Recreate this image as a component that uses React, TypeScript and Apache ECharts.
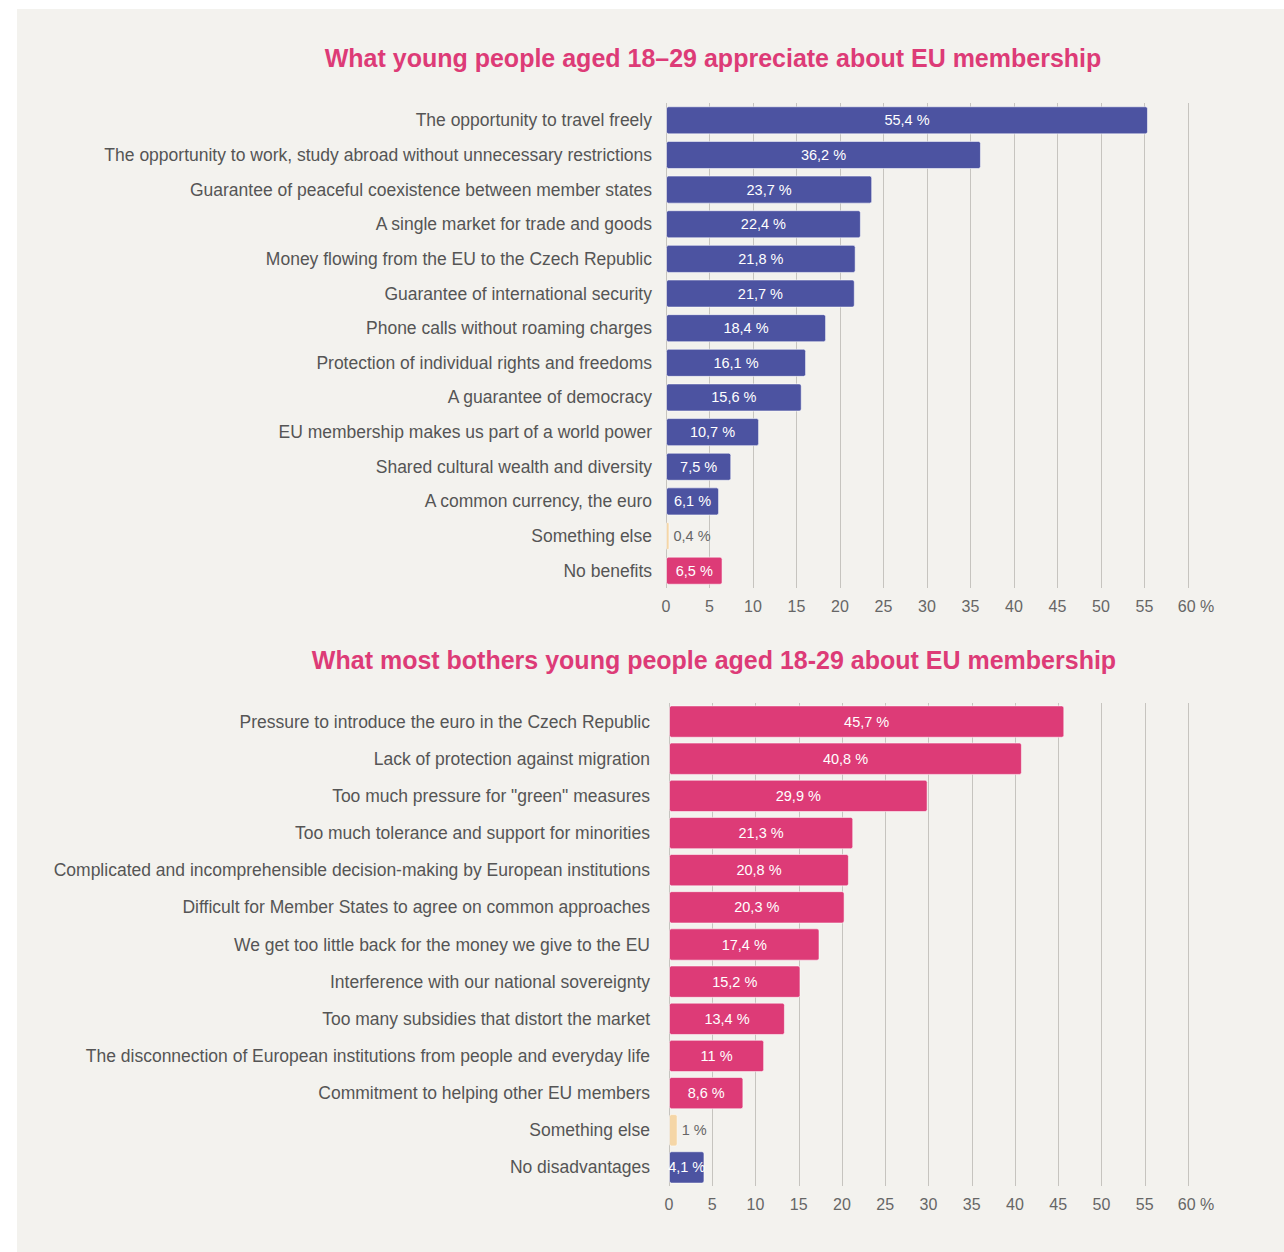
import React, { useEffect, useRef } from "react";
import * as echarts from "echarts";

const topTitle = "What young people aged 18–29 appreciate about EU membership";
const bottomTitle = "What most bothers young people aged 18-29 about EU membership";

const topCategories = [
  "The opportunity to travel freely",
  "The opportunity to work, study abroad without unnecessary restrictions",
  "Guarantee of peaceful coexistence between member states",
  "A single market for trade and goods",
  "Money flowing from the EU to the Czech Republic",
  "Guarantee of international security",
  "Phone calls without roaming charges",
  "Protection of individual rights and freedoms",
  "A guarantee of democracy",
  "EU membership makes us part of a world power",
  "Shared cultural wealth and diversity",
  "A common currency, the euro",
  "Something else",
  "No benefits",
];
const topValues = [55.4, 36.2, 23.7, 22.4, 21.8, 21.7, 18.4, 16.1, 15.6, 10.7, 7.5, 6.1, 0.4, 6.5];
const topKinds = ["b", "b", "b", "b", "b", "b", "b", "b", "b", "b", "b", "b", "o", "p"];

const bottomCategories = [
  "Pressure to introduce the euro in the Czech Republic",
  "Lack of protection against migration",
  "Too much pressure for \"green\" measures",
  "Too much tolerance and support for minorities",
  "Complicated and incomprehensible decision-making by European institutions",
  "Difficult for Member States to agree on common approaches",
  "We get too little back for the money we give to the EU",
  "Interference with our national sovereignty",
  "Too many subsidies that distort the market",
  "The disconnection of European institutions from people and everyday life",
  "Commitment to helping other EU members",
  "Something else",
  "No disadvantages",
];
const bottomValues = [45.7, 40.8, 29.9, 21.3, 20.8, 20.3, 17.4, 15.2, 13.4, 11, 8.6, 1, 4.1];
const bottomKinds = ["p", "p", "p", "p", "p", "p", "p", "p", "p", "p", "p", "o", "b"];

const xTicks = { min: 0, max: 60, interval: 5 };

const COLORS: Record<string, string> = { b: "#4c53a1", p: "#dd3b77", o: "#f5d6a6" };
const FONT = "'Liberation Sans', Arial, Helvetica, sans-serif";

function fmt(v: number) {
  return String(v).replace(".", ",") + " %";
}

function buildData(values: number[], kinds: string[]) {
  return values.map((v, i) => {
    const k = kinds[i];
    const item: any = {
      value: v,
      itemStyle: { color: COLORS[k] },
    };
    if (k === "o") {
      item.label = { position: "right", color: "#666", distance: 4 };
    }
    return item;
  });
}

export default function App() {
  const ref = useRef<HTMLDivElement>(null);
  useEffect(() => {
    document.body.style.margin = "0";
    if (!ref.current) return;
    const chart = echarts.init(ref.current, null, { renderer: "svg" });

    const xAxisBase = (gridIndex: number) => ({
      type: "value",
      gridIndex,
      min: xTicks.min,
      max: xTicks.max,
      interval: xTicks.interval,
      axisLine: { show: false },
      axisTick: { show: false },
      splitLine: { show: true, lineStyle: { color: "#c6c4bf", width: 1 } },
      axisLabel: {
        fontFamily: FONT,
        fontSize: 16,
        color: "#666",
        margin: 10,
        formatter: (v: number) => (v === xTicks.max ? "{p|" + v + " %}" : String(v)),
        rich: { p: { fontFamily: FONT, fontSize: 16, color: "#666", padding: [0, 0, 0, 16] } },
      },
    });

    const yAxisBase = (gridIndex: number, data: string[], margin: number) => ({
      type: "category",
      gridIndex,
      data,
      inverse: true,
      axisLine: { show: false },
      axisTick: { show: false },
      axisLabel: { fontFamily: FONT, fontSize: 17.5, color: "#555", margin },
    });

    const seriesBase = (idx: number, data: any[], gap: string) => ({
      type: "bar",
      xAxisIndex: idx,
      yAxisIndex: idx,
      data,
      barCategoryGap: gap,
      itemStyle: { borderRadius: 2, borderColor: "rgba(255,255,255,0.55)", borderWidth: 1 },
      label: {
        show: true,
        position: "inside",
        color: "#fff",
        fontFamily: FONT,
        fontSize: 14.5,
        formatter: (p: any) => fmt(p.value),
      },
    });

    chart.setOption({
      animation: false,
      backgroundColor: "#ffffff",
      graphic: [
        {
          type: "rect",
          z: -10,
          shape: { x: 17, y: 9, width: 1284 - 17, height: 1252 - 9 },
          style: { fill: "#f3f2ee" },
        },
        {
          type: "text",
          x: 713,
          y: 58,
          style: {
            text: topTitle,
            fill: "#dd3b77",
            font: "bold 25px " + FONT,
            textAlign: "center",
            textVerticalAlign: "middle",
          },
        },
        {
          type: "text",
          x: 714,
          y: 660,
          style: {
            text: bottomTitle,
            fill: "#dd3b77",
            font: "bold 25px " + FONT,
            textAlign: "center",
            textVerticalAlign: "middle",
          },
        },
      ],
      grid: [
        { left: 666, right: 96, top: 103, height: 485 },
        { left: 669, right: 96, top: 703, height: 483 },
      ],
      xAxis: [xAxisBase(0), xAxisBase(1)],
      yAxis: [yAxisBase(0, topCategories, 14), yAxisBase(1, bottomCategories, 19)],
      series: [
        seriesBase(0, buildData(topValues, topKinds), "19%"),
        seriesBase(1, buildData(bottomValues, bottomKinds), "13%"),
      ],
    });
    return () => chart.dispose();
  }, []);
  return <div ref={ref} style={{ width: 1284, height: 1252 }} />;
}
